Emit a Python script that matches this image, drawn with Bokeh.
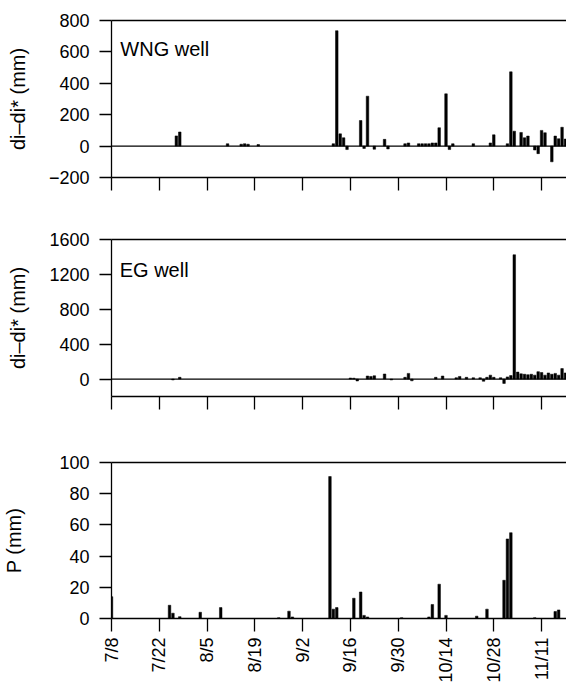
import math
from datetime import date
from bokeh.plotting import figure
from bokeh.models import Range1d, FixedTicker, LinearAxis, Span, Label
from bokeh.layouts import column
from bokeh.embed import file_html
from bokeh.resources import INLINE

# ---------------- data ----------------
tick_labels = ["7/8", "7/22", "8/5", "8/19", "9/2", "9/16", "9/30", "10/14", "10/28", "11/11"]

wng_dates = ["7/27", "7/28", "8/11", "8/15", "8/16", "8/17", "8/20",
             "9/11", "9/12", "9/13", "9/14", "9/15", "9/19", "9/20", "9/21", "9/23",
             "9/26", "9/27", "10/2", "10/3", "10/6", "10/7", "10/8", "10/9", "10/10",
             "10/11", "10/12", "10/14", "10/15", "10/16", "10/22", "10/27", "10/28",
             "11/1", "11/2", "11/3", "11/5", "11/6", "11/7", "11/9", "11/10", "11/11",
             "11/12", "11/14", "11/15", "11/16", "11/17", "11/18"]
wng_vals = [65, 90, 15, 12, 15, 12, 10,
            15, 735, 78, 53, -22, 163, -15, 318, -20,
            43, -18, 15, 20, 15, 15, 15, 15, 20,
            20, 117, 333, -22, 15, 15, 20, 72,
            15, 473, 95, 87, 53, 64, -25, -48, 100,
            85, -100, 64, 47, 120, 45]

eg_dates = ["7/26", "7/28", "9/16", "9/17", "9/18", "9/21", "9/22", "9/23", "9/26",
            "9/28", "10/2", "10/3", "10/4", "10/11", "10/13", "10/17", "10/18", "10/20",
            "10/22", "10/24", "10/25", "10/26", "10/27", "10/28", "10/30", "10/31",
            "11/1", "11/2", "11/3", "11/4", "11/5", "11/6", "11/7", "11/8", "11/9",
            "11/10", "11/11", "11/12", "11/13", "11/14", "11/15", "11/16", "11/17", "11/18"]
eg_vals = [-10, 20, 12, 10, -22, 35, 30, 38, 58,
           -10, 20, 65, -20, 20, 35, 15, 30, 20,
           15, 15, -25, 20, 45, 20, 15, -50,
           25, 40, 1425, 80, 60, 55, 50, 55, 45,
           85, 75, 45, 70, 55, 65, 45, 120, 70]

p_dates = ["7/8", "7/25", "7/26", "7/28", "8/3", "8/9", "8/26", "8/29", "8/30",
           "9/10", "9/11", "9/12", "9/17", "9/19", "9/20", "9/21", "10/1", "10/9",
           "10/10", "10/12", "10/14", "10/23", "10/26", "10/31", "11/1", "11/2",
           "11/9", "11/15", "11/16"]
p_vals = [14, 8.5, 3.4, 1.2, 4, 7, 0.5, 4.7, 1,
          91, 6, 7, 13, 17, 2, 1, 0.5, 1,
          9, 22, 2, 1.5, 6, 24.5, 51, 55,
          0.5, 4.5, 5.5]

# ---------------- helpers ----------------
YEAR = 2003
START = date(YEAR, 7, 8)


def day_offset(s):
    m, d = map(int, s.split("/"))
    return (date(YEAR, m, d) - START).days


FONT = "Liberation Sans"
X_END = 133.3
tick_pos = [day_offset(s) for s in tick_labels]


def make_panel(height, top, bottom, y0, y1, yticks, ylabel, ylabel_standoff,
               show_xlabels, dates, vals, zero_line):
    p = figure(width=566, height=height, output_backend="svg", toolbar_location=None,
               x_range=Range1d(0, X_END), y_range=Range1d(y0, y1),
               min_border_left=111, min_border_right=0,
               min_border_top=top, min_border_bottom=bottom)
    p.grid.visible = False
    p.outline_line_color = None
    p.background_fill_color = "white"
    p.border_fill_color = "white"

    # x axis (below)
    xa = p.xaxis[0]
    xa.ticker = FixedTicker(ticks=tick_pos)
    xa.major_tick_in = 0
    xa.major_tick_out = 13
    xa.minor_tick_line_color = None
    xa.axis_line_color = "black"
    xa.axis_line_width = 1.3
    xa.major_tick_line_width = 1.3
    xa.major_tick_line_color = "black"
    if show_xlabels:
        xa.major_label_overrides = {tp: lab for tp, lab in zip(tick_pos, tick_labels)}
        xa.major_label_orientation = math.pi / 2
        xa.major_label_standoff = 6
        xa.major_label_text_font = FONT
        xa.major_label_text_font_size = "18px"
        xa.major_label_text_color = "black"
    else:
        xa.major_label_overrides = {tp: "" for tp in tick_pos}
        xa.major_label_text_font_size = "1px"

    # y axis (left)
    ya = p.yaxis[0]
    ya.ticker = FixedTicker(ticks=yticks)
    ya.major_label_overrides = {t: ("\u2212" + str(abs(t)) if t < 0 else str(t)) for t in yticks}
    ya.major_tick_in = 0
    ya.major_tick_out = 12
    ya.minor_tick_line_color = None
    ya.axis_line_color = "black"
    ya.axis_line_width = 1.3
    ya.major_tick_line_width = 1.3
    ya.major_tick_line_color = "black"
    ya.major_label_standoff = 10
    ya.major_label_text_font = FONT
    ya.major_label_text_font_size = "18px"
    ya.major_label_text_color = "black"
    ya.axis_label = ylabel
    ya.axis_label_text_font = FONT
    ya.axis_label_text_font_size = "20px"
    ya.axis_label_text_font_style = "normal"
    ya.axis_label_text_color = "black"
    ya.axis_label_standoff = ylabel_standoff

    # top frame line
    top_axis = LinearAxis(ticker=FixedTicker(ticks=[]), major_label_text_font_size="1px",
                          axis_line_color="black", axis_line_width=1.3,
                          major_tick_line_color=None, minor_tick_line_color=None)
    p.add_layout(top_axis, "above")

    if zero_line:
        p.add_layout(Span(location=0, dimension="width", line_color="black", line_width=1.3))

    xs = [day_offset(s) for s in dates]
    p.vbar(x=xs, top=vals, bottom=0, width=0.75, fill_color="black", line_color="black",
           line_width=0.5)
    return p


pa = make_panel(217, 20, 40, -200, 800, [-200, 0, 200, 400, 600, 800],
                "di\u2013di* (mm)", 17, False, wng_dates, wng_vals, True)
pb = make_panel(222, 22, 43, -200, 1600, [0, 400, 800, 1200, 1600],
                "di\u2013di* (mm)", 17, False, eg_dates, eg_vals, True)
pc = make_panel(246, 23, 66, 0, 100, [0, 20, 40, 60, 80, 100],
                "P (mm)", 31, True, p_dates, p_vals, False)

# panel letters and well names
PANEL_X = -30.2
pa.add_layout(Label(x=PANEL_X, y=785, text="(a)", text_font=FONT, text_font_size="20px",
                    text_align="left", text_baseline="middle", text_color="black"))
pb.add_layout(Label(x=PANEL_X, y=1565, text="(b)", text_font=FONT, text_font_size="20px",
                    text_align="left", text_baseline="middle", text_color="black"))
pc.add_layout(Label(x=PANEL_X, y=94, text="(c)", text_font=FONT, text_font_size="20px",
                    text_align="left", text_baseline="middle", text_color="black"))
pa.add_layout(Label(x=2.6, y=617, text="WNG well", text_font=FONT, text_font_size="20px",
                    text_align="left", text_baseline="alphabetic", text_color="black"))
pb.add_layout(Label(x=2.4, y=1253, text="EG well", text_font=FONT, text_font_size="20px",
                    text_align="left", text_baseline="alphabetic", text_color="black"))

layout = column(pa, pb, pc, spacing=0)

with open("out.html", "w") as f:
    f.write(file_html(layout, INLINE))
